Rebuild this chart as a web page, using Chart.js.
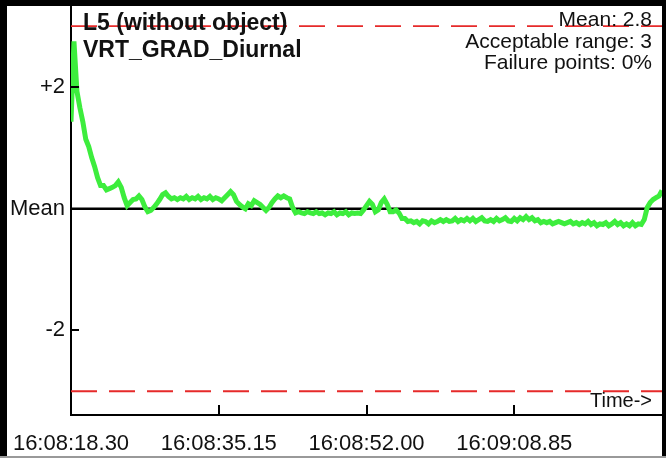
<!DOCTYPE html>
<html>
<head>
<meta charset="utf-8">
<script src="https://cdn.jsdelivr.net/npm/chart.js@4.4.1/dist/chart.umd.min.js"></script>
<style>
  html, body { margin: 0; padding: 0; background: #fff; }
  canvas { display: block; }
</style>
</head>
<body>
<canvas id="gradChart" width="666" height="458"></canvas>
<script>
var titleLines = ['L5 (without object)', 'VRT_GRAD_Diurnal'];
var statLines = ['Mean: 2.8', 'Acceptable range: 3', 'Failure points: 0%'];
var xTickValues = [0, 16.85, 33.7, 50.55];
var xTickLabels = ['16:08:18.30', '16:08:35.15', '16:08:52.00', '16:09:08.85'];
var yTickValues = [-2, 0, 2];
var yTickLabels = ['-2', 'Mean', '+2'];
var acceptableRange = 3;
var timeSpan = 67.4;     // seconds shown on the x axis
var sampleStep = 0.337;  // seconds between samples

// deviation from the mean
var deviation = [
  1.43, 2.75, 1.93, 1.66, 1.43, 1.14, 1.02, 0.84, 0.69, 0.51,
  0.38, 0.38, 0.31, 0.33, 0.35, 0.38, 0.44, 0.35, 0.18, 0.05,
  0.10, 0.15, 0.16, 0.21, 0.15, 0.03, -0.05, -0.03, 0.02, 0.08,
  0.15, 0.23, 0.26, 0.20, 0.16, 0.18, 0.15, 0.18, 0.16, 0.20,
  0.15, 0.18, 0.16, 0.20, 0.15, 0.18, 0.16, 0.20, 0.15, 0.18,
  0.16, 0.13, 0.18, 0.23, 0.28, 0.23, 0.12, 0.07, 0.03, 0.00,
  0.08, 0.05, 0.13, 0.10, 0.07, 0.02, -0.03, 0.02, 0.10, 0.16,
  0.21, 0.18, 0.21, 0.18, 0.16, 0.02, -0.07, -0.05, -0.07, -0.08,
  -0.05, -0.07, -0.08, -0.05, -0.08, -0.07, -0.10, -0.07, -0.08, -0.05,
  -0.10, -0.07, -0.08, -0.05, -0.10, -0.07, -0.08, -0.07, -0.08, -0.02,
  0.05, 0.12, 0.07, -0.05, -0.02, 0.10, 0.16, 0.07, -0.05, -0.05,
  -0.02, -0.07, -0.16, -0.16, -0.21, -0.20, -0.23, -0.21, -0.25, -0.20,
  -0.21, -0.25, -0.20, -0.23, -0.21, -0.18, -0.21, -0.18, -0.21, -0.20,
  -0.16, -0.21, -0.18, -0.20, -0.16, -0.20, -0.16, -0.21, -0.18, -0.15,
  -0.20, -0.21, -0.18, -0.21, -0.16, -0.20, -0.18, -0.15, -0.20, -0.21,
  -0.16, -0.20, -0.15, -0.18, -0.13, -0.18, -0.15, -0.20, -0.18, -0.23,
  -0.21, -0.23, -0.21, -0.25, -0.23, -0.21, -0.23, -0.25, -0.23, -0.21,
  -0.25, -0.23, -0.26, -0.23, -0.25, -0.21, -0.26, -0.23, -0.28, -0.25,
  -0.26, -0.23, -0.28, -0.25, -0.21, -0.26, -0.23, -0.28, -0.25, -0.28,
  -0.23, -0.28, -0.25, -0.26, -0.18, 0.02, 0.10, 0.15, 0.18, 0.21,
  0.30
];

var FONT = "'Liberation Sans', Arial, sans-serif";

var points = deviation.map(function(v, i) {
  return { x: Math.min(i * sampleStep, timeSpan), y: v };
});

function flatLine(v) {
  return [{ x: 0, y: v }, { x: timeSpan, y: v }];
}

var framePlugin = {
  id: 'framePlugin',
  beforeDraw: function(chart) {
    var ctx = chart.ctx;
    ctx.save();
    ctx.fillStyle = '#fff';
    ctx.fillRect(0, 0, chart.width, chart.height);
    ctx.restore();
  },
  afterDraw: function(chart) {
    var ctx = chart.ctx;
    var area = chart.chartArea;
    var xs = chart.scales.x, ys = chart.scales.y;
    ctx.save();

    // outer frame
    ctx.fillStyle = '#000';
    ctx.fillRect(0, 0, 7, chart.height);
    ctx.fillRect(0, 0, chart.width, 6);
    ctx.fillRect(area.right, 0, chart.width - area.right, chart.height);
    ctx.fillStyle = '#999';
    ctx.fillRect(0, chart.height - 2, chart.width, 2);

    // inward tick marks
    ctx.strokeStyle = '#000';
    ctx.lineWidth = 2;
    ctx.beginPath();
    xTickValues.forEach(function(v) {
      if (v === 0) return;
      var px = Math.round(xs.getPixelForValue(v));
      ctx.moveTo(px, area.bottom);
      ctx.lineTo(px, area.bottom - 10);
    });
    yTickValues.forEach(function(v) {
      if (v === 0) return;
      var py = Math.round(ys.getPixelForValue(v));
      ctx.moveTo(area.left, py);
      ctx.lineTo(area.left + 8, py);
    });
    ctx.stroke();

    // texts
    ctx.fillStyle = '#111';
    ctx.textBaseline = 'alphabetic';
    ctx.font = 'bold 23px ' + FONT;
    ctx.textAlign = 'left';
    ctx.fillText(titleLines[0], area.left + 12, 30);
    ctx.fillText(titleLines[1], area.left + 12, 57);

    ctx.font = '21px ' + FONT;
    ctx.textAlign = 'right';
    ctx.fillText(statLines[0], 652, 26);
    ctx.fillText(statLines[1], 652, 48);
    ctx.fillText(statLines[2], 652, 69);

    ctx.font = '20px ' + FONT;
    ctx.fillText('Time->', 652, 407);
    ctx.restore();
  }
};

var ctx = document.getElementById('gradChart').getContext('2d');
var gradChart = new Chart(ctx, {
  type: 'line',
  data: {
    datasets: [{
      label: 'VRT_GRAD_Diurnal',
      data: points,
      borderColor: '#3ded3d',
      borderWidth: 5,
      pointRadius: 0,
      tension: 0
    }, {
      label: 'Mean',
      data: flatLine(0),
      borderColor: '#000',
      borderWidth: 2.5,
      pointRadius: 0
    }, {
      label: 'Upper limit',
      data: flatLine(acceptableRange),
      borderColor: '#e62a2a',
      borderWidth: 1.8,
      borderDash: [26, 12],
      pointRadius: 0
    }, {
      label: 'Lower limit',
      data: flatLine(-acceptableRange),
      borderColor: '#e62a2a',
      borderWidth: 1.8,
      borderDash: [26, 12],
      pointRadius: 0
    }]
  },
  options: {
    responsive: false,
    animation: false,
    layout: { padding: { left: 8, top: 6, right: 4, bottom: 0 } },
    scales: {
      x: {
        type: 'linear',
        min: 0,
        max: timeSpan,
        afterBuildTicks: function(scale) {
          scale.ticks = xTickValues.map(function(v) { return { value: v }; });
        },
        afterFit: function(scale) {
          scale.height = 43;
          scale.paddingLeft = 0;
          scale.paddingRight = 0;
        },
        ticks: {
          autoSkip: false,
          maxRotation: 0,
          padding: 8,
          color: '#111',
          font: { family: FONT, size: 22 },
          callback: function(value) {
            var i = xTickValues.indexOf(value);
            return i >= 0 ? xTickLabels[i] : '';
          }
        },
        grid: { display: false },
        border: { display: true, color: '#000', width: 2 }
      },
      y: {
        min: -3.39,
        max: 3.33,
        afterBuildTicks: function(scale) {
          scale.ticks = yTickValues.map(function(v) { return { value: v }; });
        },
        afterFit: function(scale) {
          scale.width = 63;
          scale.paddingTop = 0;
          scale.paddingBottom = 0;
        },
        ticks: {
          padding: 6,
          color: '#111',
          font: { family: FONT, size: 22 },
          callback: function(value) {
            var i = yTickValues.indexOf(value);
            return i >= 0 ? yTickLabels[i] : '';
          }
        },
        grid: { display: false, drawTicks: false, tickLength: 0 },
        border: { display: true, color: '#000', width: 2 }
      }
    },
    plugins: {
      legend: { display: false },
      tooltip: { enabled: false }
    }
  },
  plugins: [framePlugin]
});
</script>
</body>
</html>
